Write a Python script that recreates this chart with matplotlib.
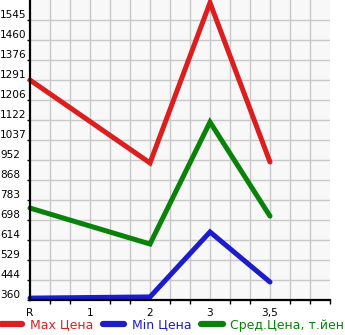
import matplotlib
matplotlib.use("Agg")
import matplotlib.pyplot as plt
import numpy as np

x_labels = ["R", "1", "2", "3", "3,5"]
x_pos = [0, 1, 2, 3, 4]
pts_x = [0, 2, 3, 4]
max_price = [1291, 940, 1618, 944]
min_price = [368, 373, 648, 436]
avg_price = [749, 597, 1113, 715]
y_labels = ["360", "444", "529", "614", "698", "783", "868", "952", "1037",
            "1122", "1206", "1291", "1376", "1460", "1545"]
names = ["Max Цена", "Min Цена", "Сред.Цена, т.йен"]
colors = ["#dc1e1e", "#1c1ccc", "#0a820a"]

W, H = 345, 335
fig = plt.figure(figsize=(W / 100, H / 100), dpi=100)
ax = fig.add_axes([30 / W, 35 / H, 300 / W, 300 / H])
ax.set_facecolor("#f8f8f8")

step = (1545 - 360) / 14
y_ticks = [360 + i * step for i in range(15)]
ax.set_ylim(360, 360 + 15 * step)
ax.set_xlim(0, 5)

for v in y_ticks[1:]:
    ax.axhline(v, color="#c8c8c8", lw=1, zorder=0)
for v in np.arange(1, 15) / 3:
    ax.axvline(v, color="#c8c8c8", lw=1, zorder=0)

for vals, c, n in zip([max_price, min_price, avg_price], colors, names):
    ax.plot(pts_x, vals, color=c, lw=3.6, solid_capstyle="round",
            solid_joinstyle="miter", label=n, zorder=3, clip_on=False)

ax.set_yticks(y_ticks)
ax.set_yticklabels(y_labels)
ax.set_xticks(x_pos)
ax.set_xticklabels(x_labels)
ax.set_xticks(np.arange(0, 16) / 3, minor=True)

for s in ["top", "right"]:
    ax.spines[s].set_visible(False)
for s in ["left", "bottom"]:
    ax.spines[s].set_linewidth(1.6)
    ax.spines[s].set_color("black")
    ax.spines[s].set_zorder(4)

ax.tick_params(axis="y", length=2.5, width=1, pad=19.1, labelsize=7.6)
for lab in ax.get_yticklabels():
    lab.set_horizontalalignment("left")
    lab.set_verticalalignment("bottom")
ax.tick_params(axis="x", which="major", length=0, pad=6, labelsize=7.6)
ax.tick_params(axis="x", which="minor", length=3, width=1)

leg = fig.legend(loc="center", bbox_to_anchor=(0.5, 10 / H), ncol=3,
                 frameon=False, fontsize=9, handlelength=1.7,
                 handletextpad=0.6, columnspacing=0.8, borderaxespad=0,
                 borderpad=0, labelcolor="linecolor")
for h in leg.get_lines():
    h.set_linewidth(4.5)
    h.set_solid_capstyle("round")

fig.savefig("out.png", dpi=100)
